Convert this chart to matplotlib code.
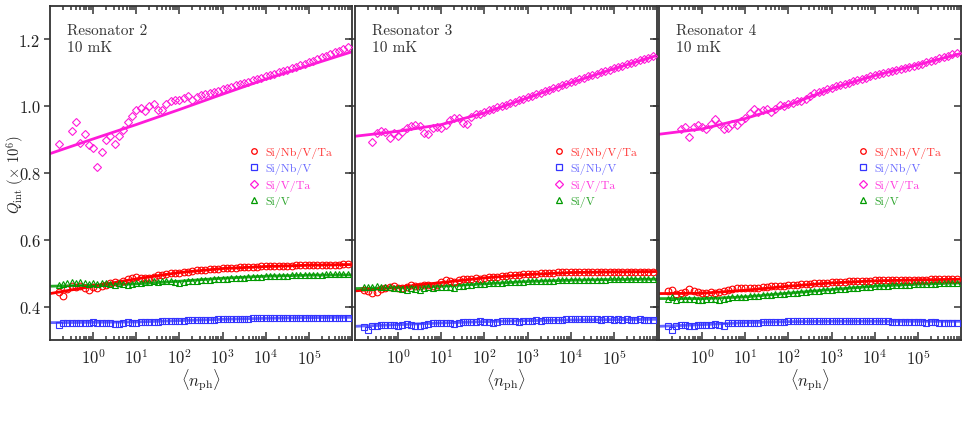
import numpy as np
import matplotlib
matplotlib.use("Agg")
import matplotlib.pyplot as plt
from matplotlib.lines import Line2D
from matplotlib.ticker import LogLocator, LogFormatterMathtext, FixedLocator, FormatStrFormatter, NullFormatter

plt.rcParams['font.family'] = 'serif'
plt.rcParams['font.serif'] = ['cmr10', 'DejaVu Serif']
plt.rcParams['mathtext.fontset'] = 'cm'
plt.rcParams['axes.formatter.use_mathtext'] = True

nan = float('nan')

# log10 of mean photon number, shared by every sweep
NPH_EXP = [-0.8, -0.7, -0.6, -0.5, -0.4, -0.3, -0.2, -0.1, 0.0, 0.1,
           0.2, 0.3, 0.4, 0.5, 0.6, 0.7, 0.8, 0.9, 1.0, 1.1,
           1.2, 1.3, 1.4, 1.5, 1.6, 1.7, 1.8, 1.9, 2.0, 2.1,
           2.2, 2.3, 2.4, 2.5, 2.6, 2.7, 2.8, 2.9, 3.0, 3.1,
           3.2, 3.3, 3.4, 3.5, 3.6, 3.7, 3.8, 3.9, 4.0, 4.1,
           4.2, 4.3, 4.4, 4.5, 4.6, 4.7, 4.8, 4.9, 5.0, 5.1,
           5.2, 5.3, 5.4, 5.5, 5.6, 5.7, 5.8, 5.9]

LABELS = ['Si/Nb/V/Ta', 'Si/Nb/V', 'Si/V/Ta', 'Si/V']
PANEL_TITLES = ['Resonator 2', 'Resonator 3', 'Resonator 4']

# ---- Resonator 2 ----
R2_NBVTA = [0.443, 0.433, 0.452, 0.462, 0.458, 0.463, 0.455, 0.450, 0.458, 0.455,
            0.463, 0.466, 0.470, 0.474, 0.472, 0.478, 0.482, 0.486, 0.490, 0.487,
            0.485, 0.486, 0.489, 0.494, 0.496, 0.498, 0.500, 0.502, 0.501, 0.503,
            0.505, 0.507, 0.509, 0.510, 0.511, 0.512, 0.513, 0.514, 0.515, 0.516,
            0.517, 0.517, 0.518, 0.519, 0.519, 0.520, 0.520, 0.521, 0.521, 0.522,
            0.522, 0.522, 0.523, 0.523, 0.523, 0.524, 0.524, 0.524, 0.524, 0.525,
            0.525, 0.525, 0.525, 0.526, 0.526, 0.526, 0.527, 0.527]
R2_NBV = [0.345, 0.352, 0.351, 0.350, 0.352, 0.351, 0.350, 0.352, 0.353, 0.351,
          0.352, 0.351, 0.350, 0.348, 0.347, 0.352, 0.353, 0.352, 0.351, 0.353,
          0.354, 0.355, 0.354, 0.353, 0.356, 0.357, 0.357, 0.358, 0.357, 0.358,
          0.359, 0.359, 0.360, 0.360, 0.361, 0.361, 0.361, 0.362, 0.362, 0.363,
          0.363, 0.363, 0.364, 0.364, 0.364, 0.365, 0.365, 0.365, 0.365, 0.366,
          0.366, 0.366, 0.366, 0.366, 0.366, 0.366, 0.366, 0.366, 0.367, 0.366,
          0.366, 0.366, 0.366, 0.365, 0.366, 0.366, 0.365, 0.365]
R2_VTA = [0.887, nan, nan, 0.925, 0.952, 0.890, 0.916, 0.884, 0.875, 0.818,
          0.862, 0.900, 0.910, 0.887, 0.910, 0.928, 0.952, 0.970, 0.990, 0.994,
          0.985, 1.000, 1.008, 0.990, 0.990, 1.008, 1.015, 1.020, 1.020, 1.024,
          1.030, 1.020, 1.028, 1.033, 1.037, 1.040, 1.044, 1.047, 1.051, 1.055,
          1.058, 1.062, 1.066, 1.069, 1.073, 1.077, 1.081, 1.085, 1.089, 1.093,
          1.097, 1.101, 1.105, 1.109, 1.113, 1.118, 1.122, 1.127, 1.131, 1.136,
          1.141, 1.146, 1.151, 1.156, 1.161, 1.166, 1.171, 1.176]
R2_V = [0.465, 0.468, 0.472, 0.475, 0.470, 0.473, 0.471, 0.468, 0.470, 0.467,
        0.472, 0.470, 0.468, 0.466, 0.470, 0.468, 0.465, 0.469, 0.470, 0.472,
        0.474, 0.473, 0.476, 0.475, 0.477, 0.476, 0.478, 0.474, 0.472, 0.475,
        0.477, 0.478, 0.476, 0.479, 0.480, 0.481, 0.482, 0.482, 0.483, 0.484,
        0.485, 0.486, 0.486, 0.487, 0.488, 0.488, 0.489, 0.490, 0.491, 0.491,
        0.492, 0.492, 0.493, 0.493, 0.494, 0.494, 0.495, 0.495, 0.495, 0.496,
        0.496, 0.496, 0.497, 0.497, 0.497, 0.497, 0.498, 0.498]

# ---- Resonator 3 ----
R3_NBVTA = [0.450, 0.447, 0.441, 0.444, 0.452, 0.456, 0.458, 0.461, 0.457, 0.455,
            0.459, 0.465, 0.463, 0.462, 0.466, 0.464, 0.463, 0.466, 0.475, 0.480,
            0.478, 0.474, 0.479, 0.482, 0.484, 0.483, 0.485, 0.484, 0.487, 0.489,
            0.488, 0.490, 0.492, 0.491, 0.494, 0.495, 0.496, 0.497, 0.497, 0.498,
            0.499, 0.500, 0.500, 0.501, 0.502, 0.503, 0.504, 0.505, 0.505, 0.505,
            0.504, 0.505, 0.505, 0.504, 0.505, 0.505, 0.504, 0.505, 0.505, 0.505,
            0.504, 0.505, 0.505, 0.505, 0.504, 0.505, 0.505, 0.505]
R3_NBV = [0.339, 0.331, 0.342, 0.343, 0.345, 0.344, 0.346, 0.344, 0.343, 0.346,
          0.347, 0.345, 0.343, 0.341, 0.345, 0.349, 0.350, 0.351, 0.350, 0.352,
          0.350, 0.349, 0.352, 0.354, 0.355, 0.354, 0.355, 0.356, 0.355, 0.354,
          0.352, 0.354, 0.356, 0.357, 0.357, 0.356, 0.355, 0.356, 0.357, 0.358,
          0.360, 0.358, 0.359, 0.361, 0.360, 0.359, 0.361, 0.362, 0.362, 0.363,
          0.362, 0.362, 0.363, 0.362, 0.362, 0.361, 0.362, 0.362, 0.361, 0.362,
          0.361, 0.362, 0.361, 0.361, 0.362, 0.361, 0.361, 0.361]
R3_VTA = [nan, nan, 0.893, 0.921, 0.926, 0.923, 0.906, 0.919, 0.910, 0.923,
          0.936, 0.941, 0.943, 0.941, 0.921, 0.916, 0.936, 0.939, 0.936, 0.943,
          0.959, 0.966, 0.966, 0.951, 0.946, 0.969, 0.976, 0.978, 0.984, 0.989,
          0.993, 0.997, 1.001, 1.005, 1.009, 1.013, 1.018, 1.022, 1.027, 1.031,
          1.036, 1.040, 1.045, 1.049, 1.054, 1.058, 1.063, 1.067, 1.072, 1.076,
          1.081, 1.085, 1.089, 1.093, 1.097, 1.101, 1.105, 1.109, 1.113, 1.117,
          1.121, 1.125, 1.129, 1.133, 1.137, 1.141, 1.145, 1.149]
R3_V = [0.458, 0.460, 0.459, 0.461, 0.458, 0.460, 0.459, 0.457, 0.455, 0.452,
        0.449, 0.456, 0.452, 0.450, 0.455, 0.458, 0.457, 0.459, 0.460, 0.458,
        0.460, 0.457, 0.461, 0.463, 0.465, 0.466, 0.467, 0.468, 0.469, 0.470,
        0.471, 0.470, 0.472, 0.473, 0.474, 0.474, 0.475, 0.475, 0.476, 0.476,
        0.477, 0.477, 0.478, 0.478, 0.478, 0.479, 0.479, 0.479, 0.480, 0.480,
        0.480, 0.480, 0.481, 0.481, 0.481, 0.481, 0.481, 0.482, 0.482, 0.482,
        0.482, 0.482, 0.482, 0.482, 0.482, 0.483, 0.483, 0.483]

# ---- Resonator 4 ----
R4_NBVTA = [0.447, 0.449, 0.439, 0.440, 0.444, 0.452, 0.446, 0.443, 0.441, 0.440,
            0.444, 0.441, 0.443, 0.447, 0.450, 0.452, 0.455, 0.456, 0.457, 0.456,
            0.457, 0.455, 0.458, 0.460, 0.461, 0.461, 0.462, 0.463, 0.464, 0.465,
            0.466, 0.467, 0.468, 0.469, 0.470, 0.471, 0.472, 0.472, 0.473, 0.474,
            0.474, 0.475, 0.476, 0.476, 0.477, 0.477, 0.478, 0.478, 0.479, 0.479,
            0.479, 0.480, 0.480, 0.480, 0.480, 0.481, 0.481, 0.481, 0.481, 0.481,
            0.481, 0.482, 0.482, 0.482, 0.482, 0.482, 0.482, 0.483]
R4_NBV = [0.342, 0.329, 0.343, 0.344, 0.346, 0.342, 0.341, 0.345, 0.346, 0.344,
          0.346, 0.347, 0.346, 0.343, 0.350, 0.352, 0.352, 0.350, 0.351, 0.350,
          0.351, 0.352, 0.353, 0.354, 0.354, 0.355, 0.355, 0.355, 0.356, 0.356,
          0.356, 0.356, 0.356, 0.356, 0.356, 0.356, 0.356, 0.356, 0.357, 0.356,
          0.356, 0.356, 0.356, 0.356, 0.356, 0.356, 0.356, 0.356, 0.356, 0.356,
          0.356, 0.356, 0.355, 0.355, 0.355, 0.355, 0.355, 0.354, 0.354, 0.354,
          0.352, 0.353, 0.353, 0.350, 0.350, 0.351, 0.352, 0.351]
R4_VTA = [nan, nan, nan, 0.931, 0.938, 0.907, 0.938, 0.943, 0.939, 0.931,
          0.946, 0.961, 0.946, 0.933, 0.936, 0.946, 0.943, 0.956, 0.966, 0.981,
          0.991, 0.983, 0.989, 0.993, 0.983, 0.991, 1.003, 1.001, 1.006, 1.011,
          1.016, 1.016, 1.021, 1.031, 1.039, 1.043, 1.047, 1.051, 1.055, 1.059,
          1.063, 1.067, 1.070, 1.074, 1.078, 1.081, 1.085, 1.089, 1.092, 1.096,
          1.099, 1.103, 1.106, 1.109, 1.112, 1.115, 1.118, 1.121, 1.124, 1.127,
          1.131, 1.135, 1.139, 1.143, 1.147, 1.151, 1.155, 1.159]
R4_V = [0.424, 0.428, 0.421, 0.423, 0.422, 0.423, 0.424, 0.420, 0.419, 0.422,
        0.423, 0.424, 0.421, 0.422, 0.426, 0.428, 0.429, 0.430, 0.430, 0.431,
        0.432, 0.431, 0.434, 0.435, 0.436, 0.437, 0.438, 0.439, 0.440, 0.441,
        0.442, 0.443, 0.444, 0.446, 0.447, 0.448, 0.449, 0.450, 0.451, 0.452,
        0.453, 0.454, 0.455, 0.456, 0.457, 0.458, 0.459, 0.460, 0.461, 0.462,
        0.462, 0.463, 0.464, 0.465, 0.465, 0.466, 0.466, 0.467, 0.467, 0.468,
        0.468, 0.469, 0.469, 0.470, 0.470, 0.470, 0.471, 0.471]

# fit curves: log10(n_ph) nodes and Q values
FIT_EXP = [-1, 0, 1, 2, 3, 4, 5, 6]
R2_FIT = [[0.439, 0.461, 0.483, 0.502, 0.514, 0.520, 0.524, 0.526],
          [0.352, 0.353, 0.354, 0.358, 0.362, 0.365, 0.367, 0.368],
          [0.858, 0.902, 0.945, 0.990, 1.036, 1.081, 1.122, 1.163],
          [0.461, 0.464, 0.468, 0.476, 0.485, 0.491, 0.494, 0.495]]
R3_FIT = [[0.447, 0.458, 0.472, 0.486, 0.496, 0.502, 0.504, 0.505],
          [0.341, 0.346, 0.351, 0.355, 0.358, 0.360, 0.361, 0.362],
          [0.910, 0.925, 0.945, 0.980, 1.025, 1.070, 1.112, 1.152],
          [0.454, 0.457, 0.461, 0.468, 0.475, 0.479, 0.481, 0.482]]
R4_FIT = [[0.439, 0.440, 0.449, 0.461, 0.471, 0.477, 0.480, 0.482],
          [0.341, 0.346, 0.352, 0.355, 0.356, 0.356, 0.356, 0.356],
          [0.916, 0.932, 0.963, 1.003, 1.053, 1.092, 1.124, 1.158],
          [0.424, 0.424, 0.429, 0.440, 0.451, 0.461, 0.467, 0.471]]

COLORS = ['#ff0000', '#3434ff', '#ff1ad9', '#009a00']
TEXT_COLORS = ['#ff3a3a', '#6a6aff', '#ff3ade', '#2ea52e']
LINE_ALPHA = [1.0, 0.75, 1.0, 0.85]
MARKERS = ['o', 's', 'D', '^']
MSIZE = [4.8, 4.5, 4.5, 4.6]

panels = [
    (PANEL_TITLES[0], [R2_NBVTA, R2_NBV, R2_VTA, R2_V], R2_FIT),
    (PANEL_TITLES[1], [R3_NBVTA, R3_NBV, R3_VTA, R3_V], R3_FIT),
    (PANEL_TITLES[2], [R4_NBVTA, R4_NBV, R4_VTA, R4_V], R4_FIT),
]

W, H = 970, 431
fig = plt.figure(figsize=(W / 100, H / 100), dpi=100)
lefts = [50, 355, 659]
nph = 10 ** np.array(NPH_EXP)
nfit = 10 ** np.array(FIT_EXP, dtype=float)
spine_c = '#333333'

for i, (title, series, fits) in enumerate(panels):
    ax = fig.add_axes([lefts[i] / W, 90 / H, 302 / W, 334 / H])
    for k in range(4):
        ax.plot(nfit, fits[k], '-', color=COLORS[k], lw=2.0, alpha=LINE_ALPHA[k], zorder=2)
    for k in range(4):
        ax.plot(nph, series[k], linestyle='none', marker=MARKERS[k], ms=MSIZE[k],
                mfc='none', mec=COLORS[k], mew=0.8, zorder=3)

    ax.set_xscale('log')
    ax.set_xlim(0.1, 1e6)
    ax.set_ylim(0.3, 1.3)
    ax.xaxis.set_major_locator(FixedLocator([1, 10, 100, 1e3, 1e4, 1e5]))
    ax.xaxis.set_major_formatter(LogFormatterMathtext())
    ax.xaxis.set_minor_locator(LogLocator(base=10, subs=np.arange(2, 10), numticks=20))
    ax.xaxis.set_minor_formatter(NullFormatter())
    ax.yaxis.set_major_locator(FixedLocator([0.4, 0.6, 0.8, 1.0, 1.2]))
    ax.yaxis.set_major_formatter(FormatStrFormatter('%.1f'))

    ax.tick_params(axis='x', which='both', direction='in', top=True, bottom=True,
                   colors=spine_c, labelcolor='#222222', labelsize=12, width=1.1, pad=5)
    ax.tick_params(axis='x', which='major', length=5.5)
    ax.tick_params(axis='x', which='minor', length=3)
    ax.tick_params(axis='y', which='major', direction='out', length=4.5, width=1.1,
                   colors=spine_c, labelcolor='#222222', labelsize=12, right=False,
                   labelleft=(i == 0), pad=2.5)
    sec = ax.secondary_yaxis('right')
    sec.yaxis.set_major_locator(FixedLocator([0.4, 0.6, 0.8, 1.0, 1.2]))
    sec.tick_params(direction='in', length=5, width=1.1, colors=spine_c, labelright=False)
    sec.spines['right'].set_visible(False)
    for s in ax.spines.values():
        s.set_color(spine_c)
        s.set_linewidth(1.3)

    ax.set_xlabel(r'$\langle n_{\rm ph}\rangle$', fontsize=12, color='#222222', labelpad=0)

    ax.text(0.055, 0.948, title + '\n10 mK', transform=ax.transAxes, ha='left', va='top',
            fontsize=11, color='#333333', linespacing=1.3)

    handles = [Line2D([], [], linestyle='none', marker=MARKERS[k], ms=MSIZE[k] - 0.8,
                      mfc='none', mec=COLORS[k], mew=0.9) for k in range(4)]
    leg = ax.legend(handles, LABELS, loc='upper left', bbox_to_anchor=(0.645, 0.593),
                    frameon=False, fontsize=8.6, handlelength=0.8, handletextpad=0.5,
                    labelspacing=0.42, borderaxespad=0)
    for t, c in zip(leg.get_texts(), TEXT_COLORS):
        t.set_color(c)

# y label placed by its centre so it stays inside the canvas
fig.text(15 / W, 1 - 174 / H, r'$Q_{\rm int}$ ($\times$ 10$^6$)', rotation=90,
         ha='center', va='center', fontsize=10.5, color='#222222')

fig.savefig('out.png', dpi=100)
